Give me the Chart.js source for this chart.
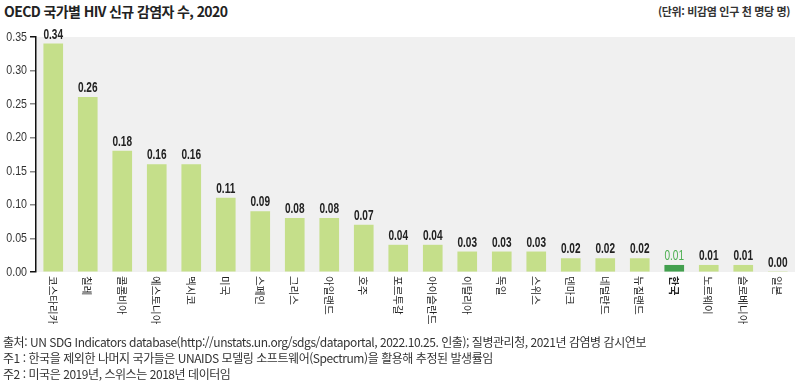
<!DOCTYPE html>
<html lang="ko">
<head>
<meta charset="utf-8">
<script src="https://cdn.jsdelivr.net/npm/chart.js@4"></script>
<style>
body{margin:0;width:795px;height:385px;background:#fff;position:relative;overflow:hidden;font-family:"Noto Sans CJK KR","Noto Sans",sans-serif;color:#222}
#ttl{position:absolute;left:4px;top:1px;font-size:14px;font-weight:700;letter-spacing:-0.6px;color:#222}
#unit{position:absolute;right:5px;top:3px;font-size:11px;font-weight:700;letter-spacing:-0.35px;color:#333}
#wrap{position:absolute;left:0;top:25px;width:795px;height:310px}
#notes{position:absolute;left:3px;top:334px;font-size:12px;line-height:16px;letter-spacing:-0.45px;color:#333}
</style>
</head>
<body>
<div id="ttl">OECD 국가별 HIV 신규 감염자 수, 2020</div>
<div id="unit">(단위: 비감염 인구 천 명당 명)</div>
<div id="wrap"><canvas id="c"></canvas></div>
<div id="notes">
<div>출처: UN SDG Indicators database(http://unstats.un.org/sdgs/dataportal, 2022.10.25. 인출); 질병관리청, 2021년 감염병 감시연보</div>
<div>주1 : 한국을 제외한 나머지 국가들은 UNAIDS 모델링 소프트웨어(Spectrum)을 활용해 추정된 발생률임</div>
<div>주2 : 미국은 2019년, 스위스는 2018년 데이터임</div>
</div>
<script>
/* 데이터 */
const countries=['코스타리카','칠레','콜롬비아','에스토니아','멕시코','미국','스페인','그리스','아일랜드','호주','포르투갈','아이슬란드','이탈리아','독일','스위스','덴마크','네덜란드','뉴질랜드','한국','노르웨이','슬로베니아','일본'];
const rates=[0.34,0.26,0.18,0.16,0.16,0.11,0.09,0.08,0.08,0.07,0.04,0.04,0.03,0.03,0.03,0.02,0.02,0.02,0.01,0.01,0.01,0.00];
const yTicks=[0,0.05,0.10,0.15,0.20,0.25,0.30,0.35];
const HL='한국';

const SANS='"Liberation Sans",Arial,sans-serif';
const KR='"Noto Sans CJK KR","Noto Sans",sans-serif';

// 가로로 눌린 글씨 (condensed 폰트 대용)
function narrowText(c,txt,x,y,sx){c.save();c.translate(x,y);c.scale(sx,1);c.fillText(txt,0,0);c.restore();}

const bgPlug={id:'bg',beforeDraw(ch){const a=ch.chartArea,c=ch.ctx;c.save();c.fillStyle='#f0f0f0';c.fillRect(a.left,a.top,a.right-a.left,a.bottom-a.top);c.restore();}};

const lblPlug={id:'lbl',afterDraw(ch){
  const c=ch.ctx,xs=ch.scales.x,ys=ch.scales.y,meta=ch.getDatasetMeta(0);
  c.save();
  // y축 눈금값
  c.font='13px '+SANS;c.fillStyle='#333';c.textAlign='right';c.textBaseline='middle';
  yTicks.forEach(v=>narrowText(c,v.toFixed(2),ys.right-9,ys.getPixelForValue(v),0.82));
  // 값 라벨
  meta.data.forEach((b,i)=>{
    const hl=countries[i]===HL;
    c.font=(hl?'':'bold ')+'14px '+SANS;
    c.fillStyle=hl?'#4caf50':'#222';
    c.textAlign='center';c.textBaseline='bottom';
    narrowText(c,rates[i].toFixed(2),b.x,b.y-2,0.72);
  });
  // 국가명 (세로, 위→아래)
  countries.forEach((n,i)=>{
    const x=xs.getPixelForTick(i);
    c.save();c.translate(x,xs.top+4);c.rotate(Math.PI/2);
    c.font=(n===HL?'bold ':'')+'10.5px '+KR;
    c.fillStyle='#222';c.textAlign='left';c.textBaseline='middle';
    c.fillText(n,0,0.5);
    c.restore();
  });
  c.restore();
}};

new Chart(document.getElementById('c'),{
  type:'bar',
  data:{labels:countries,datasets:[{data:rates,
    backgroundColor:countries.map(n=>n===HL?'#43a04f':'#c5df8a'),
    barThickness:19,borderWidth:0}]},
  options:{responsive:true,maintainAspectRatio:false,animation:false,
    layout:{padding:{top:12,right:0,left:0,bottom:0}},
    plugins:{legend:{display:false},tooltip:{enabled:false}},
    scales:{
      x:{grid:{display:false},border:{display:false},ticks:{display:false},
        afterFit(s){s.height=63;}},
      y:{min:0,max:0.35,
        afterBuildTicks(s){s.ticks=yTicks.map(v=>({value:v}));},
        ticks:{display:false},
        grid:{drawOnChartArea:false,drawTicks:true,tickLength:6,lineWidth:1.5,
          color:ctx=>(ctx.tick&&(ctx.tick.value===0||ctx.tick.value===0.35))?'#111':'#888'},
        border:{display:true,color:'#111',width:1.5},
        afterFit(s){s.width=36;}}
    }},
  plugins:[bgPlug,lblPlug]
});
</script>
</body>
</html>
